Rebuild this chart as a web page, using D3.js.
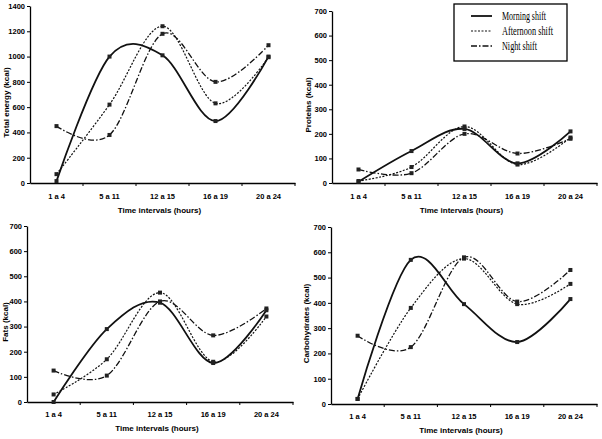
<!DOCTYPE html>
<html>
<head>
<meta charset="utf-8">
<script src="https://cdn.jsdelivr.net/npm/d3@7"></script>
<style>
  body { margin: 0; background: #fff; }
  svg { display: block; }
  .tick text { font-family: "Liberation Sans", Arial, sans-serif; font-weight: bold; font-size: 7.5px; }
  .title { font-family: "Liberation Sans", Arial, sans-serif; font-weight: bold; font-size: 8px; }
  .legend text { font-family: "Liberation Serif", "Times New Roman", serif; font-size: 11.5px; }
</style>
</head>
<body>
<script>
// categories on x axis
var categories = ["1 a 4", "5 a 11", "12 a 15", "16 a 19", "20 a 24"];
var shifts = ["Morning shift", "Afternoon shift", "Night shift"];

// total energy
var energyMorning   = [15, 1000, 1010, 490, 1000];
var energyAfternoon = [70, 620, 1240, 630, 995];
var energyNight     = [450, 380, 1180, 800, 1090];

// proteins
var protMorning   = [5, 130, 220, 80, 210];
var protAfternoon = [8, 65, 230, 75, 185];
var protNight     = [55, 40, 200, 120, 180];

// fats
var fatMorning   = [0, 290, 395, 155, 365];
var fatAfternoon = [30, 170, 435, 160, 340];
var fatNight     = [125, 105, 400, 265, 372];

// carbohydrates
var carbMorning   = [20, 570, 395, 245, 415];
var carbAfternoon = [20, 380, 575, 395, 475];
var carbNight     = [270, 225, 580, 405, 530];

var energyTicks = [0, 200, 400, 600, 800, 1000, 1200, 1400];
var kcalTicks   = [0, 100, 200, 300, 400, 500, 600, 700];

// line style per shift
var styles = [
    {width: 1.8, dash: null},
    {width: 1.2, dash: "2,1.5"},
    {width: 1.3, dash: "6,2,1.5,2"}
];
// legend label widths (the scanned font is narrow)
var legendWidths = [44, 51, 35];

var svg = d3.select("body").append("svg")
    .attr("width", 602)
    .attr("height", 439);

var panels = [
    {title: "Total energy (kcal)", series: [energyMorning, energyAfternoon, energyNight], max: 1400, ticks: energyTicks,
     x0: 30, x1: 295, yTop: 6, yBot: 183, titleX: 9, labY: 200, xTitleY: 213},
    {title: "Proteins (kcal)", series: [protMorning, protAfternoon, protNight], max: 700, ticks: kcalTicks,
     x0: 332, x1: 597, yTop: 11, yBot: 183, titleX: 311, labY: 200, xTitleY: 213},
    {title: "Fats (kcal)", series: [fatMorning, fatAfternoon, fatNight], max: 700, ticks: kcalTicks,
     x0: 27, x1: 293, yTop: 226, yBot: 402, titleX: 8, labY: 418, xTitleY: 431},
    {title: "Carbohydrates (kcal)", series: [carbMorning, carbAfternoon, carbNight], max: 700, ticks: kcalTicks,
     x0: 331, x1: 597, yTop: 227, yBot: 404, titleX: 309, labY: 420, xTitleY: 433}
];

panels.forEach(function(p) {
    var x = d3.scaleBand().domain(categories).range([p.x0, p.x1]);
    var y = d3.scaleLinear().domain([0, p.max]).range([p.yBot, p.yTop]);
    var g = svg.append("g");

    // y axis
    g.append("g")
        .attr("transform", "translate(" + p.x0 + ",0)")
        .call(d3.axisLeft(y).tickValues(p.ticks).tickFormat(d3.format("d"))
            .tickSize(3).tickSizeOuter(0).tickPadding(2));
    // x axis, ticks at band borders
    var xa = g.append("g")
        .attr("transform", "translate(0," + p.yBot + ")")
        .call(d3.axisBottom(x).tickSize(0).tickPadding(p.labY - p.yBot - 6));
    var borders = categories.slice(1).map(function(c) { return x(c); });
    borders.push(p.x1);
    xa.selectAll("line.border").data(borders).enter().append("line")
        .attr("class", "border")
        .attr("x1", function(d) { return d; }).attr("x2", function(d) { return d; })
        .attr("y1", 0).attr("y2", 3)
        .attr("stroke", "#000");
    g.selectAll(".domain").attr("stroke", "#000").attr("stroke-width", 1.3);

    // axis titles
    g.append("text").attr("class", "title")
        .attr("transform", "translate(" + p.titleX + "," + ((p.yTop + p.yBot) / 2 + 8) + ") rotate(-90)")
        .attr("text-anchor", "middle")
        .text(p.title);
    g.append("text").attr("class", "title")
        .attr("x", (p.x0 + p.x1) / 2 - 3).attr("y", p.xTitleY)
        .attr("text-anchor", "middle")
        .text("Time intervals (hours)");

    var line = d3.line()
        .x(function(d, i) { return x(categories[i]) + x.bandwidth() / 2; })
        .y(function(d) { return y(d); })
        .curve(d3.curveCardinal.tension(0));

    p.series.forEach(function(s, k) {
        g.append("path")
            .datum(s)
            .attr("d", line)
            .attr("fill", "none")
            .attr("stroke", "#111")
            .attr("stroke-width", styles[k].width)
            .attr("stroke-dasharray", styles[k].dash);
        g.selectAll("rect.m" + k).data(s).enter().append("rect")
            .attr("class", "m" + k)
            .attr("x", function(d, i) { return x(categories[i]) + x.bandwidth() / 2 - 2; })
            .attr("y", function(d) { return y(d) - 2; })
            .attr("width", 4).attr("height", 4)
            .attr("fill", "#222");
    });
});

// legend
var lg = svg.append("g").attr("class", "legend");
lg.append("rect")
    .attr("x", 454).attr("y", 4).attr("width", 113).attr("height", 57)
    .attr("fill", "#fff").attr("stroke", "#000").attr("stroke-width", 1.3);
shifts.forEach(function(name, k) {
    var yy = 16 + k * 15;
    lg.append("line")
        .attr("x1", 471).attr("x2", 492).attr("y1", yy).attr("y2", yy)
        .attr("stroke", "#111")
        .attr("stroke-width", styles[k].width)
        .attr("stroke-dasharray", styles[k].dash);
    lg.append("text").attr("x", 502).attr("y", yy + 4)
        .attr("textLength", legendWidths[k])
        .attr("lengthAdjust", "spacingAndGlyphs")
        .text(name);
});
</script>
</body>
</html>
